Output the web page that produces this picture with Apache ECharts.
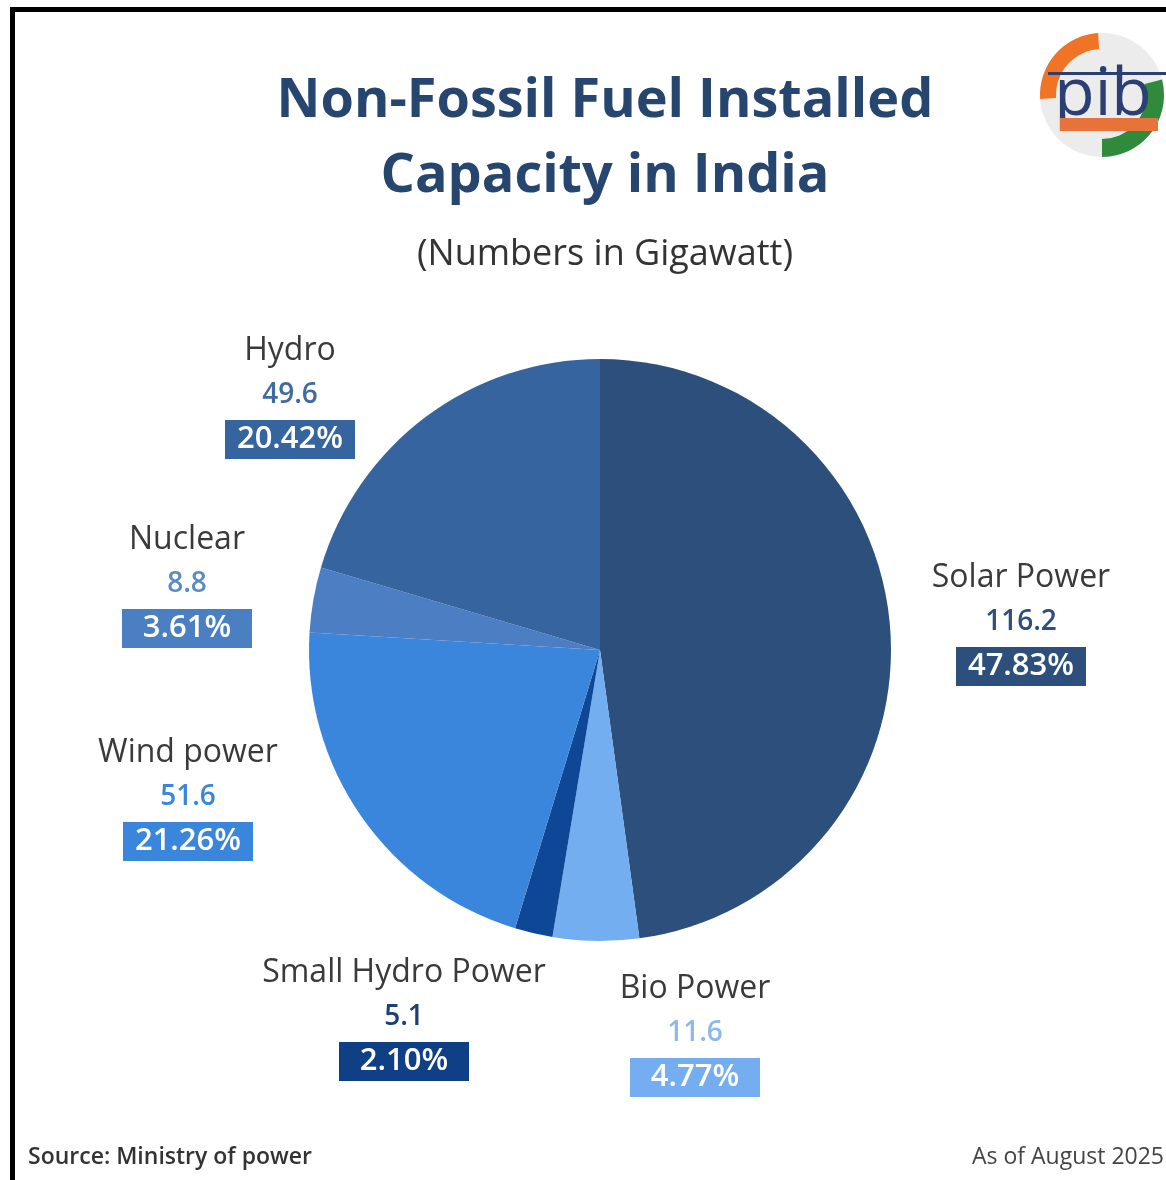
<!DOCTYPE html>
<html><head><meta charset="utf-8">
<script src="https://cdn.jsdelivr.net/npm/echarts@6/dist/echarts.min.js"></script>
<style>html,body{margin:0;padding:0;background:#fff}#c{width:1166px;height:1180px}</style>
</head><body><div id="c"></div>
<script>
const categories = ['Solar Power', 'Bio Power', 'Small Hydro Power', 'Wind power', 'Nuclear', 'Hydro'];
const values = [116.2, 11.6, 5.1, 51.6, 8.8, 49.6];
const valueLabels = ['116.2', '11.6', '5.1', '51.6', '8.8', '49.6'];
const percentLabels = ['47.83%', '4.77%', '2.10%', '21.26%', '3.61%', '20.42%'];
const sliceColors = ['#2c4f7c', '#72aef0', '#0e4796', '#3a86dd', '#4b7ec2', '#36649e'];
const valueColors = ['#2c4f7c', '#8cb9ec', '#1f3f72', '#3a86dd', '#5b8bc6', '#3f6b9f'];
const boxColors = ['#2c4f7c', '#74aef0', '#0f3f85', '#3a86dd', '#4a7fc2', '#36649e'];
// label anchor (center of name line)
const labelPositions = [[1021, 578], [695, 989], [404, 973], [188, 753], [187, 540], [290, 351]];

const FONT = 'Open Sans';
const data = categories.map((name, i) => ({
  name: name,
  value: values[i],
  itemStyle: { color: sliceColors[i] },
  label: {
    formatter: '{n|' + name + '}\n{v|' + valueLabels[i] + '}\n{p|' + percentLabels[i] + '}',
    rich: {
      n: { fontFamily: FONT, fontSize: 32, color: '#3a3a3a', lineHeight: 38, align: 'center', letterSpacing: -0.5 },
      v: { fontFamily: FONT, fontSize: 28, fontWeight: 600, color: valueColors[i], lineHeight: 50, align: 'center' },
      p: { fontFamily: FONT, fontSize: 31, fontWeight: 600, color: '#ffffff', backgroundColor: boxColors[i],
           lineHeight: 39, height: 39, width: 110, padding: [0, 10], align: 'center' }
    }
  }
}));

const chart = echarts.init(document.getElementById('c'), null, { renderer: 'canvas' });
chart.setOption({
  backgroundColor: '#ffffff',
  animation: false,
  title: [
    { text: 'Non-Fossil Fuel Installed\nCapacity in India', left: 600, top: 59, textAlign: 'center',
      textStyle: { fontFamily: FONT, fontSize: 54, fontWeight: 'bold', color: '#27466f', lineHeight: 75 } },
    { text: '(Numbers in Gigawatt)', left: 600, top: 228, textAlign: 'center',
      textStyle: { fontFamily: FONT, fontSize: 36, fontWeight: 'normal', color: '#333333', lineHeight: 44 } }
  ],
  series: [{
    type: 'pie',
    center: [600, 650],
    radius: 291,
    startAngle: 90,
    clockwise: true,
    silent: true,
    data: data,
    label: { show: true, position: 'outside' },
    labelLine: { show: false },
    labelLayout: function (params) {
      const p = labelPositions[params.dataIndex];
      return { x: p[0], y: p[1] - 19, align: 'center', verticalAlign: 'top' };
    }
  }],
  graphic: [
    { type: 'rect', shape: { x: 10, y: 7, width: 1160, height: 5 }, style: { fill: '#000' } },
    { type: 'rect', shape: { x: 10, y: 7, width: 5, height: 1180 }, style: { fill: '#000' } },
    { type: 'text', left: 28, top: 1146, style: { text: 'Source: Ministry of power', fontFamily: FONT, fontSize: 23, fontWeight: 600, fill: '#333' } },
    { type: 'text', left: 972, top: 1146, style: { text: 'As of August 2025', fontFamily: FONT, fontSize: 23, fill: '#444' } },
    { type: 'group', children: [
      { type: 'circle', shape: { cx: 1102, cy: 95, r: 62 }, style: { fill: '#ececec' } },
      { type: 'sector', shape: { cx: 1102, cy: 95, r: 62, r0: 46, startAngle: Math.PI * 0.98, endAngle: Math.PI * 1.48 }, style: { fill: '#f07326' } },
      { type: 'sector', shape: { cx: 1102, cy: 95, r: 62, r0: 44, startAngle: -Math.PI * 0.08, endAngle: Math.PI * 0.5 }, style: { fill: '#2f8a3c' } },
      { type: 'rect', shape: { x: 1048, y: 72, width: 118, height: 3 }, style: { fill: '#2a3f73' } },
      { type: 'text', x: 1103, y: 96, style: { text: 'pib', fontFamily: FONT, fontSize: 66, fill: '#2a3f73', align: 'center', verticalAlign: 'middle' } },
      { type: 'rect', shape: { x: 1060, y: 118, width: 98, height: 13 }, style: { fill: '#e8733a' } }
    ] }
  ]
});
</script>
</body></html>
